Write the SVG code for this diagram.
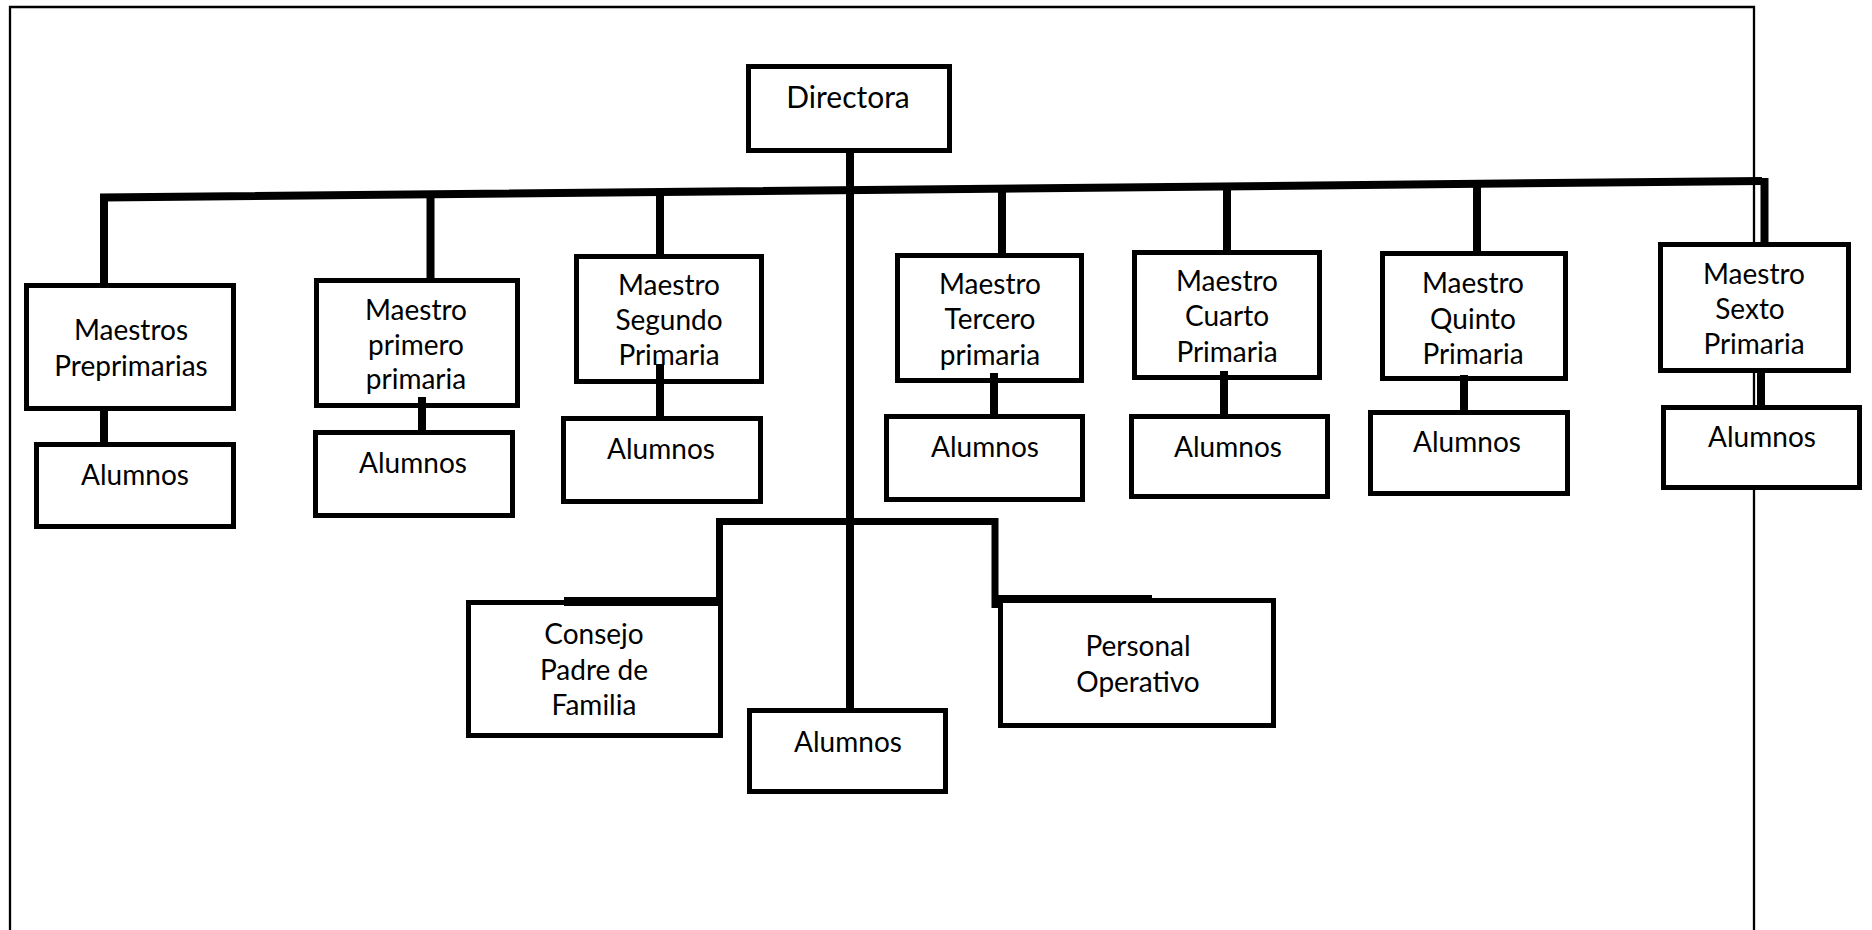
<svg xmlns="http://www.w3.org/2000/svg" width="1872" height="930" viewBox="0 0 1872 930">
<style>
.box{fill:#fff;stroke:#000;stroke-width:5}
.c{stroke:#000;stroke-width:8;fill:none}
.c7{stroke:#000;stroke-width:7;fill:none}
.t{font-family:Lato,"Liberation Sans",sans-serif;font-size:28px;fill:#000;text-anchor:middle}
.td{font-family:Lato,"Liberation Sans",sans-serif;font-size:30px;fill:#000;text-anchor:middle}
.frame{stroke:#000;stroke-width:2.3;fill:none}
</style>
<rect width="1872" height="930" fill="#fff"/>
<path class="frame" d="M10,930 V7 H1754 V930"/>
<g id="connectors">
<path class="c" d="M104,284 V197.5 L1762,181" stroke-linejoin="miter"/>
<line class="c" x1="1764.5" y1="178" x2="1764.5" y2="243"/>
<line class="c" x1="850" y1="150" x2="850" y2="709"/>
<line class="c" x1="430.5" y1="194" x2="430.5" y2="280"/>
<line class="c" x1="660" y1="192" x2="660" y2="255"/>
<line class="c" x1="1002" y1="188.5" x2="1002" y2="254"/>
<line class="c" x1="1227" y1="186" x2="1227" y2="251"/>
<line class="c" x1="1477" y1="183.5" x2="1477" y2="252"/>
<path class="c7" d="M719.5,607 V521.5 H995 V608"/>
</g>
<g id="n-directora"><rect class="box" x="748.5" y="66.5" width="201" height="84"/><text class="td" x="848" y="108">Directora</text></g>
<g id="n-preprimarias"><rect class="box" x="26.5" y="285.5" width="207" height="123"/><text class="t" x="131" y="340">Maestros</text><text class="t" x="131" y="376">Preprimarias</text></g>
<g id="n-primero"><rect class="box" x="316.5" y="280.5" width="201" height="125"/><text class="t" x="416" y="320">Maestro</text><text class="t" x="416" y="355">primero</text><text class="t" x="416" y="389">primaria</text></g>
<g id="n-segundo"><rect class="box" x="576.5" y="256.5" width="185" height="125"/><text class="t" x="669" y="295">Maestro</text><text class="t" x="669" y="330">Segundo</text><text class="t" x="669" y="365">Primaria</text></g>
<g id="n-tercero"><rect class="box" x="897.5" y="255.5" width="184" height="125"/><text class="t" x="990" y="294">Maestro</text><text class="t" x="990" y="329">Tercero</text><text class="t" x="990" y="365">primaria</text></g>
<g id="n-cuarto"><rect class="box" x="1134.5" y="252.5" width="185" height="125"/><text class="t" x="1227" y="291">Maestro</text><text class="t" x="1227" y="326">Cuarto</text><text class="t" x="1227" y="362">Primaria</text></g>
<g id="n-quinto"><rect class="box" x="1382.5" y="253.5" width="183" height="125"/><text class="t" x="1473" y="293">Maestro</text><text class="t" x="1473" y="329">Quinto</text><text class="t" x="1473" y="364">Primaria</text></g>
<g id="n-sexto"><rect class="box" x="1660.5" y="244.5" width="188" height="126"/><text class="t" x="1754" y="284">Maestro</text><text class="t" x="1750" y="319">Sexto</text><text class="t" x="1754" y="354">Primaria</text></g>
<g id="connectors-sub">
<line class="c" x1="104" y1="408" x2="104" y2="443"/>
<line class="c" x1="422" y1="397" x2="422" y2="431"/>
<line class="c" x1="660" y1="364" x2="660" y2="417"/>
<line class="c" x1="994" y1="373" x2="994" y2="415"/>
<line class="c" x1="1224" y1="371" x2="1224" y2="415"/>
<line class="c" x1="1464" y1="375" x2="1464" y2="411"/>
<line class="c" x1="1761" y1="373" x2="1761" y2="406"/>
</g>
<g id="n-alumnos-pre"><rect class="box" x="36.5" y="444.5" width="197" height="82"/><text class="t" x="135" y="485">Alumnos</text></g>
<g id="n-alumnos-1"><rect class="box" x="315.5" y="432.5" width="197" height="83"/><text class="t" x="413" y="473">Alumnos</text></g>
<g id="n-alumnos-2"><rect class="box" x="563.5" y="418.5" width="197" height="83"/><text class="t" x="661" y="459">Alumnos</text></g>
<g id="n-alumnos-3"><rect class="box" x="886.5" y="416.5" width="196" height="83"/><text class="t" x="985" y="457">Alumnos</text></g>
<g id="n-alumnos-4"><rect class="box" x="1131.5" y="416.5" width="196" height="80"/><text class="t" x="1228" y="457">Alumnos</text></g>
<g id="n-alumnos-5"><rect class="box" x="1370.5" y="412.5" width="197" height="81"/><text class="t" x="1467" y="452">Alumnos</text></g>
<g id="n-alumnos-6"><rect class="box" x="1663.5" y="407.5" width="196" height="80"/><text class="t" x="1762" y="447">Alumnos</text></g>
<g id="n-consejo"><rect class="box" x="468.5" y="602.5" width="252" height="133"/><text class="t" x="594" y="644">Consejo</text><text class="t" x="594" y="680">Padre de</text><text class="t" x="594" y="715">Familia</text></g>
<g id="n-alumnos-c"><rect class="box" x="749.5" y="710.5" width="196" height="81"/><text class="t" x="848" y="752">Alumnos</text></g>
<g id="n-personal"><rect class="box" x="1000.5" y="600.5" width="273" height="125"/><text class="t" x="1138" y="656">Personal</text><text class="t" x="1138" y="692">Operativo</text></g>
<g id="stubs">
<line stroke="#000" stroke-width="9" x1="564" y1="601.5" x2="723" y2="601.5"/>
<line stroke="#000" stroke-width="8" x1="995" y1="599" x2="1152" y2="599"/>
</g>
</svg>
